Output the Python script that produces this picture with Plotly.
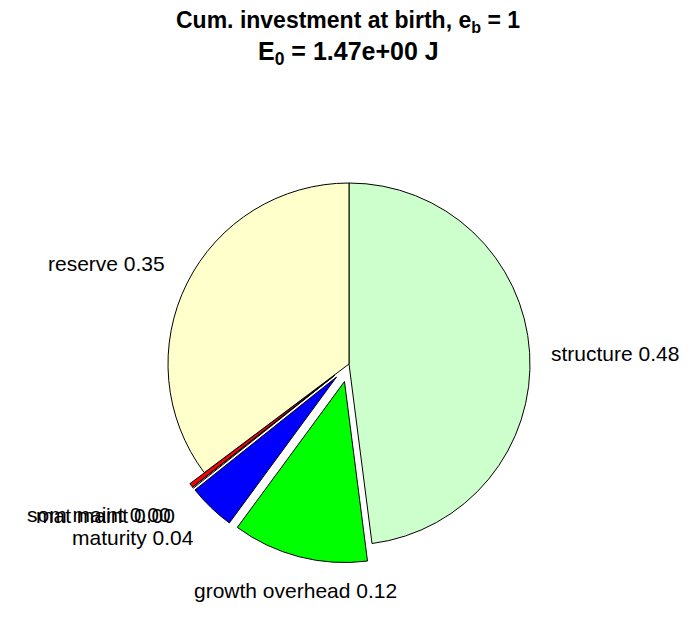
import plotly.graph_objects as go

# ---- data ----
labels = ["structure", "growth overhead", "maturity", "mat maint", "som maint", "reserve"]
values = [0.4797, 0.1211, 0.0420, 0.0010, 0.0037, 0.3525]
colors = ["#CCFFCC", "#00FF00", "#0000FF", "#FFFFFF", "#FF0000", "#FFFFCC"]
pulls = [0, 0.1, 0.1, 0.1, 0.1, 0]
title_lines = ["Cum. investment at birth, e<sub>b</sub> = 1", "E<sub>0</sub> = 1.47e+00 J"]

# ---- layout constants ----
W, H = 696, 618
OFF = 8  # page body margin; page px -> figure px
CX, CY, R = 349 - OFF, 364 - OFF, 181  # pie centre / radius in figure pixels
maxpull = max(pulls)
RD = R * (1 + maxpull)
dom_x = [(CX - RD) / W, (CX + RD) / W]
dom_y = [(H - CY - RD) / H, (H - CY + RD) / H]

# label anchor positions (page pixels): x, y, xanchor
label_pos = {
    "structure": (549, 353, "left"),
    "growth overhead": (295, 590, "center"),
    "maturity": (196, 537, "right"),
    "mat maint": (177, 515, "right"),
    "som maint": (173, 514, "right"),
    "reserve": (167, 263, "right"),
}

fig = go.Figure(go.Pie(
    labels=labels, values=values, sort=False, direction="clockwise", rotation=0,
    marker=dict(colors=colors, line=dict(color="black", width=1)),
    pull=pulls, textinfo="none", hoverinfo="label+value",
    domain=dict(x=dom_x, y=dom_y), showlegend=False,
))

FONT = "Liberation Sans, Arial, sans-serif"
annotations = []
for lab, val in zip(labels, values):
    px, py, xa = label_pos[lab]
    annotations.append(dict(
        x=(px - OFF) / W, y=1 - (py - OFF) / H, xref="paper", yref="paper",
        text=f"{lab} {val:.2f}", showarrow=False, xanchor=xa, yanchor="middle",
        font=dict(family=FONT, size=21, color="black"),
    ))
title_y = [22, 53]
title_size = [23, 25]
for t, ty, ts in zip(title_lines, title_y, title_size):
    annotations.append(dict(
        x=(348 - OFF) / W, y=1 - (ty - OFF) / H, xref="paper", yref="paper",
        text=f"<b>{t}</b>", showarrow=False, xanchor="center", yanchor="middle",
        font=dict(family=FONT, size=ts, color="black"),
    ))

fig.update_layout(
    width=W, height=H, margin=dict(l=0, r=0, t=0, b=0),
    paper_bgcolor="white", plot_bgcolor="white",
    annotations=annotations,
)

fig.write_html("out.html")
